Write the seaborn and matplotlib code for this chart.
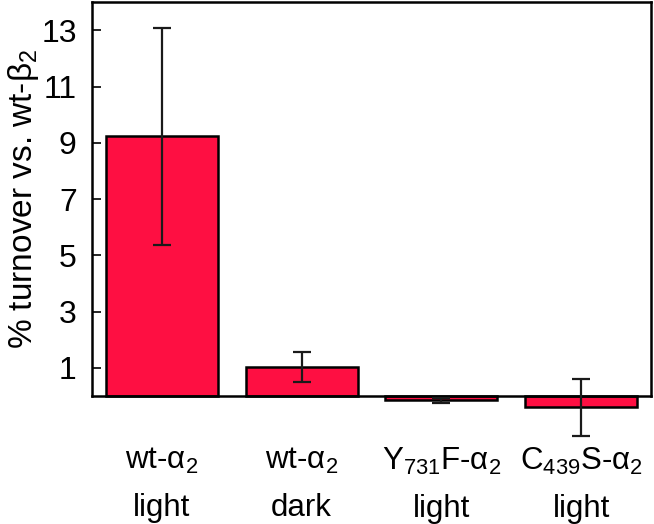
import matplotlib
matplotlib.use("Agg")
import matplotlib.pyplot as plt
import seaborn as sns
import pandas as pd

# values
labels = ["wt-α$_2$\nlight", "wt-α$_2$\ndark", "Y$_{731}$F-α$_2$\nlight", "C$_{439}$S-α$_2$\nlight"]
turnover = [9.23, 1.02, -0.16, -0.40]
error = [3.86, 0.53, 0.10, 1.01]
yticks = [1, 3, 5, 7, 9, 11, 13]

sns.set_style("ticks")
plt.rcParams['font.family'] = ['Liberation Sans', 'DejaVu Sans']
plt.rcParams['mathtext.fontset'] = 'custom'
plt.rcParams['mathtext.rm'] = 'Liberation Sans'
plt.rcParams['mathtext.default'] = 'regular'
plt.rcParams['text.color'] = 'black'
plt.rcParams['axes.labelcolor'] = 'black'
plt.rcParams['xtick.color'] = 'black'
plt.rcParams['ytick.color'] = 'black'

df = pd.DataFrame({"sample": labels, "turnover": turnover, "err": error})

fig = plt.figure(figsize=(6.54, 5.24), dpi=100)
ax = fig.add_axes([0.1407, 0.2443, 0.8547, 0.7517])

sns.barplot(data=df, x="sample", y="turnover", color="#FE0F42", saturation=1,
            edgecolor="black", linewidth=1.8, width=0.8, errorbar=None,
            clip_on=False, ax=ax)

# error bars at the bar centres
centres = [p.get_x() + p.get_width() / 2 for p in ax.patches]
ax.errorbar(centres, df["turnover"], yerr=df["err"], fmt="none", ecolor="#1a1a1a",
            elinewidth=1.6, capsize=6.5, capthick=1.6, clip_on=False, zorder=5)

ax.set_xlim(-0.5, 3.5)
ax.set_ylim(0, 14)
ax.set_yticks(yticks)
ax.tick_params(axis="y", direction="in", length=6.5, width=1.2, labelsize=23, pad=11)
ax.tick_params(axis="x", length=0, labelsize=22.5, pad=36)
for lab in ax.get_xticklabels():
    lab.set_linespacing(1.75)
ax.set_xlabel("")
ax.set_ylabel("% turnover vs. wt-β$_2$", fontsize=24, labelpad=0)
for s in ax.spines.values():
    s.set_linewidth(1.8)
    s.set_color("black")

fig.savefig("out.png", dpi=100)
